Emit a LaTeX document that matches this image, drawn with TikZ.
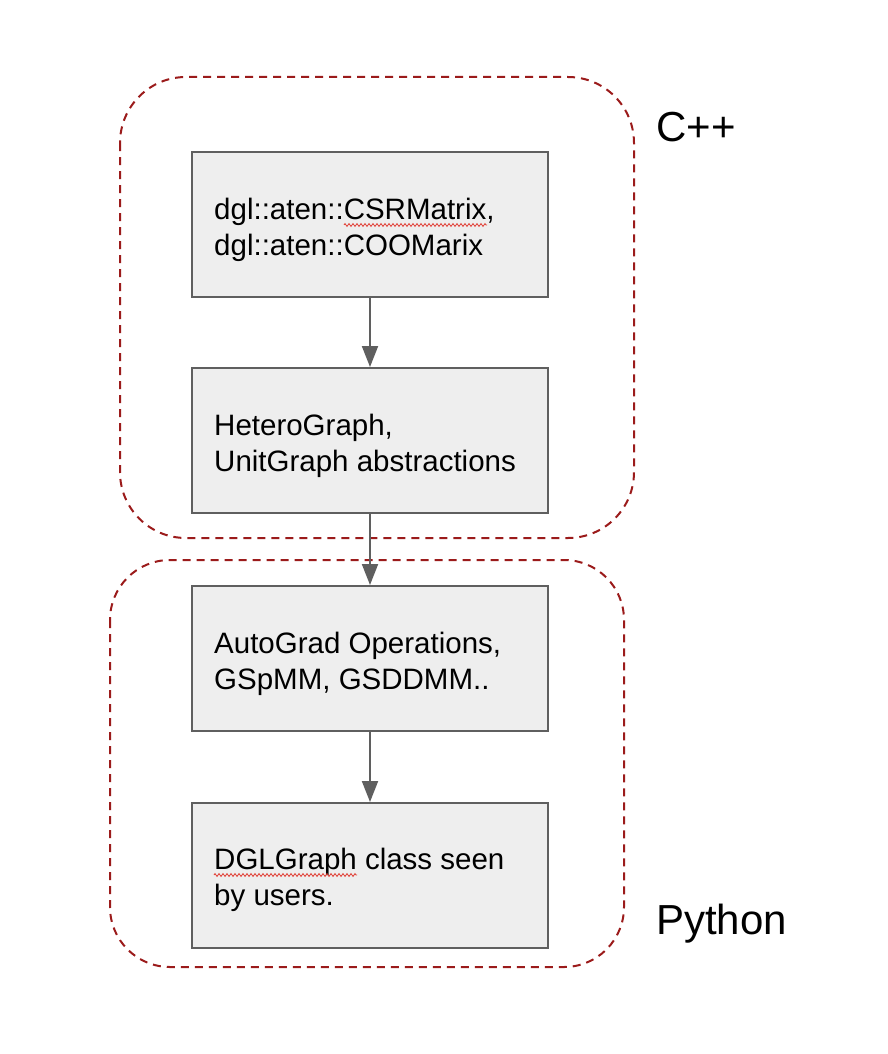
\documentclass[tikz,border=0pt]{standalone}
\usepackage{fontspec}
\setmainfont{Liberation Sans}
\usetikzlibrary{arrows.meta,decorations.pathmorphing,calc}
\definecolor{grpred}{HTML}{9B1B1B}
\definecolor{boxfill}{HTML}{EEEEEE}
\definecolor{boxline}{HTML}{5F5F5F}
\definecolor{spellred}{HTML}{E0382E}
\tikzset{
  grp/.style={draw=grpred, line width=2pt, dash pattern=on 8pt off 6pt},
  stepbox/.style={draw=boxline, fill=boxfill, line width=2pt, minimum width=356pt, minimum height=145pt, inner sep=0pt},
  txt/.style={anchor=base west, inner sep=0pt, font=\fontsize{29.5}{36}\selectfont},
  big/.style={anchor=base west, inner sep=0pt, font=\fontsize{42}{50}\selectfont},
  flow/.style={draw=boxline, line width=2pt, -{Triangle[length=21pt,width=16pt]}},
  spell/.style={draw=spellred, line width=0.8pt, decorate, decoration={zigzag, segment length=4pt, amplitude=1.4pt}}
}
\begin{document}
\begin{tikzpicture}[x=1pt,y=-1pt]
\useasboundingbox (0,0) rectangle (888,1054);
% groups
\draw[grp, rounded corners=66pt] (120,77) rectangle (634,538);
\draw[grp, rounded corners=60pt] (110,560) rectangle (624,967);
% boxes
\node[stepbox] (b1) at (370,224.5) {};
\node[stepbox] (b2) at (370,440.5) {};
\node[stepbox] (b3) at (370,658.5) {};
\node[stepbox] (b4) at (370,875.5) {};
% texts
\node[txt] (t1a) at (214,219) {dgl::aten::CSRMatrix,};
\node[txt] (t1b) at (214,255) {dgl::aten::COOMarix};
\node[txt] (t2a) at (214,435) {HeteroGraph,};
\node[txt] (t2b) at (214,471) {UnitGraph abstractions};
\node[txt] (t3a) at (214,653) {AutoGrad Operations,};
\node[txt] (t3b) at (214,689) {GSpMM, GSDDMM..};
\node[txt] (t4a) at (214,869) {DGLGraph class seen};
\node[txt] (t4b) at (214,905) {by users.};
% spell-check underlines
\draw[spell] ($(t1a.base west)+(130,6)$) -- ($(t1a.base west)+(273,6)$);
\draw[spell] ($(t4a.base west)+(0,6)$) -- ($(t4a.base west)+(143,6)$);
% arrows
\draw[flow] (b1.south) -- (b2.north);
\draw[flow] (b2.south) -- (b3.north);
\draw[flow] (b3.south) -- (b4.north);
% labels
\node[big] (cpp) at (656,141) {C++};
\node[big] (py) at (656,934) {Python};
\end{tikzpicture}
\end{document}
